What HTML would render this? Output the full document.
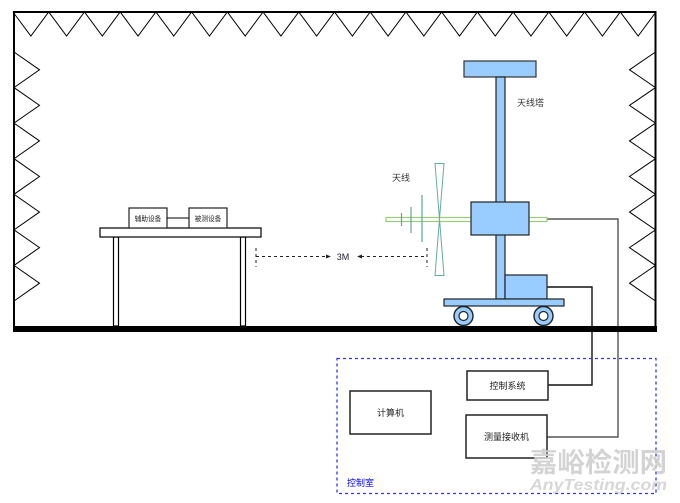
<!DOCTYPE html>
<html><head><meta charset="utf-8"><style>
html,body{margin:0;padding:0;background:#fff;}
svg{display:block;}
text{font-family:"Liberation Sans","Noto Sans CJK SC",sans-serif;}
</style></head><body>
<svg width="680" height="503" viewBox="0 0 680 503" xmlns="http://www.w3.org/2000/svg">
<!-- walls -->
<polyline points="14,327 14,12 655.5,12 655.5,327" fill="none" stroke="#000" stroke-width="2"/>
<!-- top absorbers -->
<polyline fill="none" stroke="#000" stroke-width="1" points="13,12 30.86,36 48.72,12 66.58,36 84.44,12 102.31,36 120.17,12 138.03,36 155.89,12 173.75,36 191.61,12 209.47,36 227.33,12 245.19,36 263.06,12 280.92,36 298.78,12 316.64,36 334.5,12 352.36,36 370.22,12 388.08,36 405.94,12 423.81,36 441.67,12 459.53,36 477.39,12 495.25,36 513.11,12 530.97,36 548.83,12 566.69,36 584.56,12 602.42,36 620.28,12 638.14,36 656,12"/>
<!-- left absorbers -->
<polyline fill="none" stroke="#000" stroke-width="1" points="14,52 39.5,69.79 14,87.57 39.5,105.36 14,123.14 39.5,140.93 14,158.71 39.5,176.5 14,194.29 39.5,212.07 14,229.86 39.5,247.64 14,265.43 39.5,283.21 14,301"/>
<!-- right absorbers -->
<polyline fill="none" stroke="#000" stroke-width="1" points="655.5,52 629.5,69.79 655.5,87.57 629.5,105.36 655.5,123.14 629.5,140.93 655.5,158.71 629.5,176.5 655.5,194.29 629.5,212.07 655.5,229.86 629.5,247.64 655.5,265.43 629.5,283.21 655.5,301"/>

<!-- connectors -->
<polyline points="547,219 618,219 618,437 547,437" fill="none" stroke="#555" stroke-width="1.4"/>
<polyline points="547,287 592,287 592,385 548,385" fill="none" stroke="#111" stroke-width="1.4"/>

<!-- floor -->
<rect x="13" y="326" width="644" height="6" fill="#000"/>

<!-- table -->
<rect x="113.5" y="237" width="5" height="89" fill="#fff" stroke="#000" stroke-width="1.2"/>
<rect x="240.5" y="237" width="5" height="89" fill="#fff" stroke="#000" stroke-width="1.2"/>
<rect x="100" y="228" width="161" height="9" fill="#fff" stroke="#000" stroke-width="1.2"/>
<rect x="129" y="208" width="38" height="20" fill="#fff" stroke="#222" stroke-width="1.2"/>
<rect x="189" y="208" width="38" height="20" fill="#fff" stroke="#222" stroke-width="1.2"/>
<line x1="167" y1="218" x2="189" y2="218" stroke="#000" stroke-width="1"/>
<text x="148" y="221" font-size="6.7" text-anchor="middle" fill="#222">辅助设备</text>
<text x="208" y="221" font-size="6.7" text-anchor="middle" fill="#222">被测设备</text>

<!-- 3M distance -->
<line x1="256" y1="248" x2="256" y2="267" stroke="#222" stroke-width="1" stroke-dasharray="3,3"/>
<line x1="427" y1="248" x2="427" y2="267" stroke="#222" stroke-width="1" stroke-dasharray="3,3"/>
<line x1="256" y1="256.5" x2="327" y2="256.5" stroke="#222" stroke-width="1" stroke-dasharray="3,3"/>
<polygon points="331,256.5 326,254.5 326,258.5" fill="#222"/>
<line x1="361" y1="256.5" x2="427" y2="256.5" stroke="#222" stroke-width="1" stroke-dasharray="3,3"/>
<polygon points="357,256.5 362,254.5 362,258.5" fill="#222"/>
<text x="343" y="260" font-size="9" text-anchor="middle" fill="#223">3M</text>

<!-- antenna boom -->
<rect x="386" y="217.5" width="161" height="4" fill="#fff" stroke="#97d077" stroke-width="1.2"/>
<line x1="401.5" y1="213" x2="401.5" y2="226" stroke="#5fa592" stroke-width="1.2"/>
<line x1="411" y1="207" x2="411" y2="233" stroke="#5fa592" stroke-width="1.2"/>
<line x1="422" y1="195" x2="422" y2="242" stroke="#5fa592" stroke-width="1.2"/>
<polygon points="435,163.5 444,163.5 439.5,219" fill="none" stroke="#67ab9f" stroke-width="1"/>
<polygon points="439.5,219 435,275.5 444,275.5" fill="none" stroke="#67ab9f" stroke-width="1"/>
<text x="392" y="181" font-size="9" fill="#333">天线</text>

<!-- tower -->
<rect x="464" y="61" width="72" height="16" fill="#99ccff" stroke="#333" stroke-width="1.2"/>
<rect x="496" y="77" width="9" height="222" fill="#99ccff" stroke="#222" stroke-width="1.2"/>
<rect x="471" y="202" width="58" height="33" fill="#99ccff" stroke="#222" stroke-width="1.2"/>
<rect x="505" y="275" width="42" height="24" fill="#99ccff" stroke="#222" stroke-width="1.2"/>
<rect x="444" y="299" width="120" height="7" fill="#99ccff" stroke="#222" stroke-width="1.2"/>
<circle cx="463.5" cy="316" r="9.5" fill="#99ccff" stroke="#222" stroke-width="1.4"/>
<circle cx="463.5" cy="316" r="4.5" fill="#fff" stroke="#222" stroke-width="1.2"/>
<circle cx="543.5" cy="316" r="9.5" fill="#99ccff" stroke="#222" stroke-width="1.4"/>
<circle cx="543.5" cy="316" r="4.5" fill="#fff" stroke="#222" stroke-width="1.2"/>
<text x="517" y="106" font-size="9" fill="#333">天线塔</text>

<!-- control room -->
<rect x="337" y="358.5" width="319" height="135" fill="none" stroke="#3333ff" stroke-width="1.3" stroke-dasharray="3,3"/>
<text x="347" y="486" font-size="9" fill="#0000ff">控制室</text>
<rect x="350" y="391" width="81" height="43" fill="#fff" stroke="#222" stroke-width="1.5"/>
<text x="390.5" y="416" font-size="9" text-anchor="middle" fill="#222">计算机</text>
<rect x="467" y="371" width="81" height="29" fill="#fff" stroke="#222" stroke-width="1.5"/>
<text x="507.5" y="389" font-size="9" text-anchor="middle" fill="#222">控制系统</text>
<rect x="466" y="415" width="81" height="43" fill="#fff" stroke="#222" stroke-width="1.5"/>
<text x="506.5" y="440" font-size="9" text-anchor="middle" fill="#222">测量接收机</text>

<!-- watermark -->
<text x="530" y="472" font-size="27" font-weight="bold" fill="#cfcfcf" textLength="137" lengthAdjust="spacingAndGlyphs" opacity="0.9">嘉峪检测网</text>
<text x="530" y="490" font-size="16" font-weight="bold" font-style="italic" fill="#d3d3d3" textLength="137" lengthAdjust="spacingAndGlyphs" opacity="0.9">AnyTesting.com</text>
</svg>
</body></html>
